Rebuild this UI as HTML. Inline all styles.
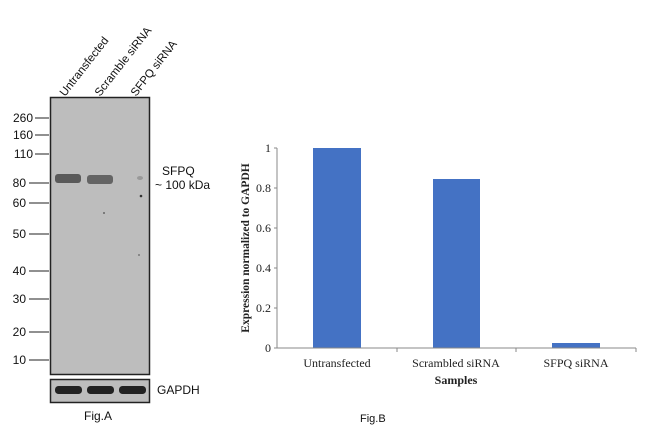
<!DOCTYPE html>
<html><head><style>body{margin:0;background:#fff}</style></head><body>
<svg width="650" height="434" viewBox="0 0 650 434" xmlns="http://www.w3.org/2000/svg" font-family="Liberation Sans, sans-serif">
<rect width="650" height="434" fill="#fff"/>
<!-- Western blot -->
<rect x="50.5" y="97.5" width="99" height="277" fill="#bdbdbd" stroke="#222" stroke-width="1.5"/>
<rect x="55" y="174" width="26" height="9" rx="3" fill="#5a5a5a"/>
<rect x="87" y="175" width="26" height="9" rx="3" fill="#646464"/>
<ellipse cx="140" cy="178" rx="3" ry="2" fill="#999"/>
<circle cx="141" cy="196" r="1.3" fill="#333"/>
<circle cx="104" cy="213" r="1" fill="#666"/>
<circle cx="139" cy="255" r="1" fill="#777"/>
<rect x="50.5" y="379.5" width="99" height="23" fill="#bdbdbd" stroke="#222" stroke-width="1.5"/>
<rect x="55" y="386" width="27" height="8" rx="3.5" fill="#222"/>
<rect x="87" y="386" width="27" height="8" rx="3.5" fill="#222"/>
<rect x="119" y="386" width="27" height="8" rx="3.5" fill="#222"/>
<g font-size="12" fill="#111" text-anchor="end">
<text x="33" y="122">260</text><text x="33" y="139">160</text><text x="33" y="158">110</text>
<text x="26" y="187">80</text><text x="26" y="207">60</text><text x="26" y="238">50</text>
<text x="26" y="275">40</text><text x="26" y="303">30</text><text x="26" y="336">20</text><text x="26" y="364">10</text>
</g>
<g stroke="#222" stroke-width="1">
<line x1="35" y1="118" x2="49" y2="118"/><line x1="35" y1="135" x2="49" y2="135"/><line x1="35" y1="154" x2="49" y2="154"/>
<line x1="29" y1="183" x2="49" y2="183"/><line x1="29" y1="203" x2="49" y2="203"/><line x1="29" y1="234" x2="49" y2="234"/>
<line x1="29" y1="271" x2="49" y2="271"/><line x1="29" y1="299" x2="49" y2="299"/><line x1="29" y1="332" x2="49" y2="332"/><line x1="29" y1="360" x2="49" y2="360"/>
</g>
<g font-size="11.5" fill="#111">
<text transform="translate(65,97) rotate(-52)">Untransfected</text>
<text transform="translate(100,97) rotate(-52)">Scramble siRNA</text>
<text transform="translate(136,97) rotate(-52)">SFPQ siRNA</text>
</g>
<text x="162" y="175" font-size="12" fill="#111">SFPQ</text>
<text x="155" y="189" font-size="12" fill="#111">~ 100 kDa</text>
<text x="157" y="394" font-size="12" fill="#111">GAPDH</text>
<text x="84" y="420" font-size="12" fill="#111">Fig.A</text>
<!-- Bar chart -->
<g fill="#4472c4">
<rect x="313" y="148" width="48" height="200"/>
<rect x="433" y="179" width="47" height="169"/>
<rect x="552" y="343" width="48" height="5"/>
</g>
<g stroke="#888" stroke-width="1">
<line x1="277" y1="148" x2="277" y2="348"/>
<line x1="274" y1="348" x2="636" y2="348"/>
<line x1="274" y1="148" x2="277" y2="148"/><line x1="274" y1="188" x2="277" y2="188"/><line x1="274" y1="228" x2="277" y2="228"/><line x1="274" y1="268" x2="277" y2="268"/><line x1="274" y1="308" x2="277" y2="308"/>
<line x1="397" y1="348" x2="397" y2="352"/><line x1="516" y1="348" x2="516" y2="352"/><line x1="636" y1="348" x2="636" y2="352"/>
</g>
<g font-family="Liberation Serif, serif" font-size="12" fill="#222">
<g text-anchor="end">
<text x="271" y="152">1</text><text x="271" y="192">0.8</text><text x="271" y="232">0.6</text><text x="271" y="272">0.4</text><text x="271" y="312">0.2</text><text x="271" y="352">0</text>
</g>
<g text-anchor="middle">
<text x="337" y="367">Untransfected</text><text x="456" y="367">Scrambled siRNA</text><text x="576" y="367">SFPQ siRNA</text>
<text x="456" y="384" font-weight="bold">Samples</text>
<text transform="translate(249,248) rotate(-90)" font-weight="bold" font-size="11.5">Expression normalized to GAPDH</text>
</g>
</g>
<text x="360" y="422" font-size="11" fill="#111">Fig.B</text>
</svg>
</body></html>
